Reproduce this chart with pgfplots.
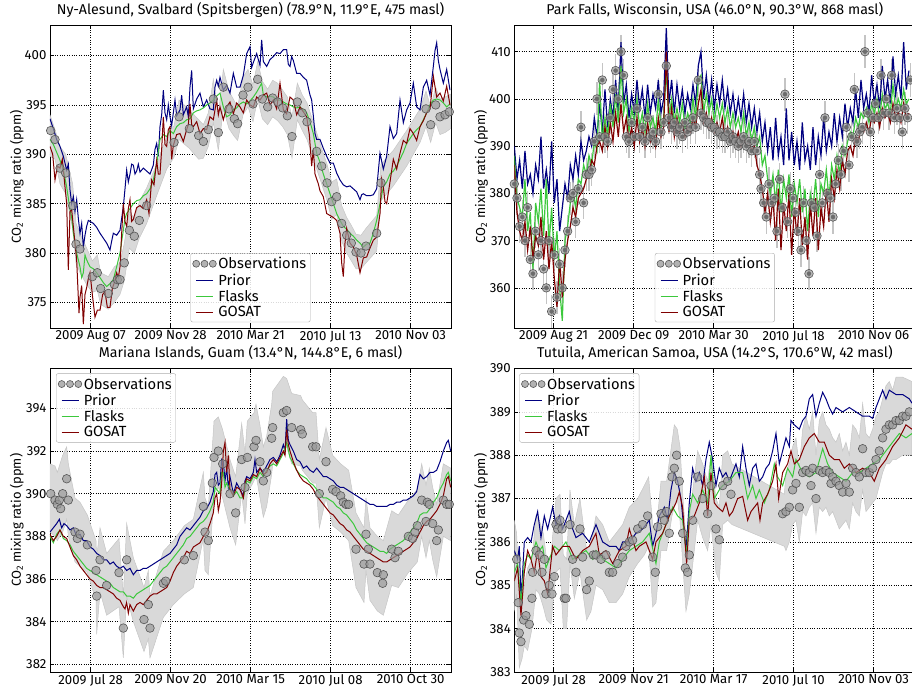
\documentclass[border=0pt]{standalone}
\usepackage{fontspec}
\setmainfont{Fira Sans}
\usepackage{pgfplots}
\usepackage{pgfplotstable}
\pgfplotsset{compat=1.18}
\definecolor{prior}{HTML}{000080}
\definecolor{flask}{HTML}{3CC83C}
\definecolor{gosat}{HTML}{800000}
\definecolor{bandc}{HTML}{D9D9D9}
\definecolor{bandedge}{HTML}{C6C6C6}
\definecolor{obsfill}{HTML}{9A9A9A}
\definecolor{obsedge}{HTML}{555555}
\definecolor{errc}{HTML}{C4C4C4}

% ---------------- Panel 1: Ny-Alesund ----------------
\pgfplotstableread{
x y
150 393.6
160 392.6
170 391.5
180 390.8
190 389.8
200 388.4
205 389.0
210 386.4
215 385.0
220 385.7
225 384.2
230 385.4
235 383.5
240 382.0
245 383.0
250 380.6
255 381.8
260 382.7
265 383.3
270 383.2
280 383.0
290 382.6
300 382.0
310 381.5
320 381.0
330 380.3
335 381.2
340 382.0
350 381.8
360 382.3
370 384.7
375 386.5
380 388.4
385 387.2
390 388.0
395 389.0
400 388.9
405 388.0
410 388.3
415 389.0
420 388.2
430 388.6
440 388.3
450 388.0
460 388.9
465 390.5
470 391.1
475 389.8
480 392.8
485 394.0
490 396.5
495 394.2
500 393.5
505 395.0
510 393.8
515 392.9
520 394.2
525 395.5
530 393.9
540 394.5
545 396.0
550 394.0
560 394.8
565 393.8
570 396.8
575 398.5
580 394.6
590 395.6
600 396.2
610 394.8
620 395.5
630 394.6
640 394.5
645 396.8
650 397.5
655 396.9
660 397.8
670 396.5
680 397.0
690 396.2
700 398.2
710 396.8
720 396.8
730 398.0
740 400.2
750 400.9
755 398.8
760 399.3
770 400.2
780 399.0
785 401.6
790 399.4
800 398.9
810 399.6
820 399.9
830 400.3
840 400.2
850 400.6
860 400.6
865 399.1
870 398.9
875 399.9
880 399.5
890 398.2
900 398.2
910 397.8
920 397.5
930 396.0
935 395.5
940 393.9
945 392.1
950 391.5
960 391.5
970 390.6
980 389.8
990 389.1
1000 389.1
1010 388.1
1020 387.4
1030 386.9
1040 386.7
1050 386.8
1060 386.5
1070 386.2
1080 385.4
1085 385.9
1090 386.0
1100 385.8
1110 385.8
1120 385.9
1130 386.5
1140 390.1
1150 388.5
1160 389.8
1170 392.8
1180 391.6
1190 392.1
1200 395.5
1210 393.2
1220 394.5
1230 395.2
1240 397.2
1250 394.8
1260 394.5
1270 396.8
1280 397.5
1290 396.0
1300 398.9
1305 400.5
1310 401.3
1315 399.5
1320 398.6
1330 397.2
1340 398.6
1350 396.5
}\pAprior

\pgfplotstableread{
x y
150 391.5
160 391.0
170 390.2
180 389.4
190 388.4
200 386.7
210 384.4
215 383.6
220 382.0
225 381.0
230 380.0
235 379.3
240 378.6
245 377.5
250 378.0
255 379.8
260 379.3
270 378.6
280 378.4
290 378.0
300 377.5
310 377.0
320 376.6
330 376.9
340 377.3
350 378.6
360 380.0
370 382.3
375 383.5
380 384.0
390 384.5
400 385.0
410 385.3
420 385.4
430 385.8
440 386.0
450 386.5
460 387.4
470 389.0
480 391.5
490 392.0
500 391.8
510 392.4
520 392.1
530 392.8
540 393.1
550 393.2
560 393.5
570 393.6
580 394.2
590 394.4
600 394.5
610 394.7
620 395.0
630 395.2
640 395.5
650 395.9
660 396.2
670 394.8
680 393.8
690 394.0
700 394.5
710 394.7
720 395.1
730 395.3
740 395.1
750 395.4
760 395.8
770 396.3
785 397.2
790 396.0
800 395.8
810 395.9
820 395.8
830 395.5
840 395.5
850 395.3
860 395.1
870 395.0
880 394.8
890 394.7
900 394.8
910 394.5
920 394.2
930 393.3
940 392.1
950 390.1
960 389.2
970 388.0
980 387.0
990 386.0
1000 385.0
1010 384.0
1020 383.3
1030 382.7
1040 382.4
1050 382.0
1060 381.7
1070 381.3
1080 381.0
1090 380.6
1100 380.9
1110 381.0
1120 382.0
1130 383.3
1140 385.0
1150 386.7
1160 387.2
1170 388.0
1180 388.3
1190 388.8
1200 389.5
1210 390.2
1220 391.1
1230 391.6
1240 392.1
1250 392.5
1260 392.8
1270 393.5
1280 394.2
1290 395.0
1300 395.5
1310 395.6
1320 395.5
1330 395.2
1340 394.8
1350 395.1
}\pAflask

\pgfplotstableread{
x y
150 390.8
158 390.0
165 387.4
172 388.8
180 388.6
187 389.5
195 386.7
200 385.0
205 378.3
210 384.2
215 384.4
222 382.0
230 379.3
237 373.9
240 375.5
245 376.7
250 372.8
255 375.8
260 376.5
265 377.4
270 378.0
278 375.5
285 373.5
292 374.2
300 374.2
308 375.8
315 376.1
322 374.5
330 374.5
337 376.4
343 377.0
350 378.0
355 377.5
360 378.6
365 382.0
370 385.0
375 383.2
380 382.7
385 384.5
390 385.4
395 383.2
400 383.4
410 384.6
420 384.8
430 384.5
440 385.4
447 384.0
455 387.4
462 386.9
470 389.4
475 388.0
480 388.0
485 390.5
490 393.8
495 391.0
500 390.8
505 392.5
510 392.8
515 389.5
520 390.9
530 392.0
540 392.1
550 391.3
560 392.5
565 393.0
570 395.1
575 393.0
580 392.8
590 393.3
600 392.1
610 392.6
620 392.5
630 393.8
640 393.5
650 395.5
655 394.0
660 394.8
670 393.5
680 394.8
690 395.3
700 394.1
710 395.2
720 394.8
730 394.2
740 395.5
750 395.0
760 394.8
770 395.8
780 395.5
790 396.0
800 396.2
810 395.0
820 395.5
830 394.6
840 397.2
850 394.5
860 394.1
870 395.8
880 395.5
890 394.0
900 394.8
910 394.3
920 393.8
928 392.0
935 388.8
940 390.5
945 388.0
955 387.0
960 386.3
970 385.7
980 384.0
990 383.8
1000 383.6
1010 383.3
1020 382.0
1025 379.0
1030 377.6
1035 381.0
1040 382.5
1050 381.0
1060 380.6
1070 379.8
1080 378.0
1090 379.5
1100 379.6
1110 380.5
1120 381.3
1130 381.6
1140 384.0
1145 387.5
1150 386.7
1155 385.2
1160 385.0
1170 387.2
1180 389.5
1190 388.5
1200 390.1
1210 391.4
1220 391.1
1230 392.6
1240 392.1
1250 391.4
1260 392.8
1270 393.4
1280 394.2
1290 394.6
1300 397.9
1310 395.8
1320 396.2
1330 395.4
1340 396.9
1350 395.0
}\pAgosat

\pgfplotstableread{
x y
152 392.4
165 391.5
180 388.6
197 388.1
218 384.8
228 380.9
240 380.4
277 377.6
292 378.0
302 376.4
325 375.9
343 376.8
352 377.3
360 377.3
373 379.0
388 382.3
403 381.7
418 383.3
440 384.8
522 391.2
537 393.8
568 392.6
596 391.9
610 391.3
625 392.5
640 395.6
655 392.2
670 396.8
687 394.6
703 393.6
713 393.1
729 396.0
744 396.8
759 395.1
773 397.6
787 395.6
803 394.8
818 395.7
833 395.3
848 394.7
862 393.9
876 391.8
892 395.3
907 394.2
921 393.3
950 390.3
965 388.8
981 387.1
995 385.2
1010 385.7
1025 383.0
1040 381.8
1054 381.0
1068 380.1
1083 380.0
1098 380.7
1130 382.0
1143 387.1
1278 394.6
1292 393.0
1307 395.0
1320 393.8
1335 394.0
1348 394.3
}\pAobs

% band outline: upper edge left to right, then lower edge right to left
\pgfplotstableread{
x y
150 394.0
165 392.5
180 390.8
197 390.0
218 387.0
228 383.0
240 382.0
260 380.5
277 379.2
292 379.8
302 378.0
325 377.6
343 378.6
360 379.0
373 381.0
388 384.2
403 383.5
418 385.2
440 386.6
470 389.0
500 391.8
522 392.9
537 395.5
568 394.5
596 393.5
610 393.0
625 394.2
640 397.6
655 394.0
670 398.6
687 396.4
703 395.4
713 394.8
729 397.8
744 398.6
759 397.0
773 399.4
787 397.4
803 396.6
818 397.5
833 397.2
848 396.5
862 395.8
876 393.8
892 397.2
907 396.0
921 395.2
950 392.2
965 390.6
981 389.0
995 387.2
1010 387.5
1025 384.8
1040 383.6
1054 382.8
1068 381.9
1083 381.8
1098 382.5
1130 383.8
1143 389.0
1180 390.4
1220 392.4
1260 394.6
1278 396.4
1292 394.8
1307 396.8
1320 395.6
1335 395.8
1352 396.1
1352 392.6
1335 392.2
1320 392.0
1307 393.2
1292 391.2
1278 392.8
1260 391.2
1220 388.8
1180 386.8
1143 385.3
1130 380.2
1098 379.0
1083 378.4
1068 378.4
1054 379.2
1040 380.0
1025 381.2
1010 383.9
995 383.4
981 385.3
965 387.0
950 388.5
921 391.5
907 392.4
892 393.5
876 389.6
862 392.0
848 392.8
833 393.4
818 393.8
803 393.0
787 393.6
773 395.6
759 393.3
744 394.8
729 394.0
713 391.4
703 391.8
687 392.6
670 394.6
655 390.4
640 393.2
625 390.8
610 389.6
596 389.5
568 390.6
537 391.5
522 389.7
500 388.5
470 385.8
440 383.0
418 381.5
403 380.0
388 380.5
373 377.2
360 375.8
343 375.0
325 374.3
302 374.8
292 376.2
277 376.0
260 376.8
240 378.0
228 379.0
218 382.5
197 386.0
180 387.0
165 389.5
150 389.8
}\pAband

% ---------------- Panel 2: Park Falls ----------------
\pgfplotstableread{
x prior flask gosat
175 390 388 386
183 383 379 376
191 387 377 372
199 381 375 370
207 389 383 374
215 382 372 368
223 384 376 373
231 380 364 366
239 386 378 371
247 383 374 369
255 392 381 375
263 381 371 366
271 385 383 372
279 380 369 364
287 391 377 370
295 378 366 362
303 383 372 356
311 372 360 366
319 377 353 358
327 382 370 366
335 379 373 370
343 386 378 373
351 383 380 377
359 388 377 375
367 384 383 379
375 391 382 380
383 387 386 381
391 389 384 383
399 392 388 384
407 390 386 387
415 396 391 386
423 392 389 390
431 399 404 391
439 393 391 389
447 402 396 394
455 394 392 390
463 400 399 395
471 396 394 391
479 404 401 397
487 397 395 392
495 412 407 399
503 399 397 393
511 403 400 396
519 396 393 391
527 401 398 394
535 397 395 390
543 404 400 396
551 398 394 391
559 402 397 394
567 396 393 390
575 403 399 395
583 397 394 391
591 401 396 393
599 398 393 390
607 404 400 396
615 397 394 392
623 400 396 394
631 415 406 410
639 399 396 393
647 404 400 398
655 397 395 392
663 403 398 396
671 398 395 393
679 402 399 395
687 397 394 392
695 401 397 394
703 398 395 393
711 403 400 396
719 399 396 394
727 407 404 399
735 410 405 402
743 400 397 395
751 405 401 397
759 399 397 394
767 404 400 396
775 398 395 393
783 403 399 395
791 399 396 393
799 404 399 396
807 398 395 392
815 402 398 394
823 397 394 391
831 401 397 393
839 396 394 391
847 400 396 393
855 396 393 390
863 401 397 392
871 395 392 390
879 399 395 391
887 394 391 389
895 398 394 390
903 393 390 386
911 397 392 384
919 391 386 381
927 395 388 376
935 389 383 380
943 394 380 374
951 387 384 379
959 396 378 370
967 388 385 381
975 392 376 368
983 386 383 378
991 398 379 372
999 387 384 380
1007 393 375 367
1015 386 382 377
1023 391 378 371
1031 385 383 379
1039 395 376 369
1047 387 381 375
1055 390 372 366
1063 385 380 378
1071 394 377 371
1079 386 383 379
1087 392 375 368
1095 388 382 377
1103 396 380 373
1111 389 385 381
1119 393 379 374
1127 390 386 383
1135 397 383 379
1143 391 388 385
1151 396 384 381
1159 392 390 387
1167 399 388 384
1175 394 391 389
1183 398 393 390
1191 395 392 388
1199 402 396 392
1207 396 394 391
1215 404 397 394
1223 398 396 393
1231 401 398 395
1239 397 395 393
1247 405 399 396
1255 399 397 395
1263 403 400 397
1271 398 396 394
1279 407 401 398
1287 400 398 396
1295 404 399 397
1303 399 397 395
1311 409 403 399
1319 401 398 396
1327 405 400 397
1335 400 398 395
1343 412 402 399
1351 402 399 396
1359 406 400 397
}\pBlines

\pgfplotstableread{
x y
175 382
183 379
191 373
199 375
207 370
215 377
223 366
231 363
239 372
247 367
255 370
263 364
271 360
279 370
287 355
295 367
303 358
311 365
319 360
327 368
335 372
343 379
351 380
359 374
367 381
375 394
383 378
391 384
399 384
407 385
415 391
423 400
431 392
439 404
447 392
455 391
463 396
471 402
479 406
487 400
495 410
503 405
511 392
519 391
527 395
535 392
543 398
551 392
559 394
567 391
575 396
583 392
591 393
599 391
607 401
615 393
623 395
631 407
639 396
647 394
655 395
663 393
671 394
679 392
687 395
695 393
703 394
711 396
719 394
727 404
735 397
743 396
751 395
759 395
767 394
775 394
783 393
791 393
799 392
807 392
815 393
823 391
831 392
839 391
847 390
855 391
863 392
871 390
879 391
887 389
895 391
903 389
911 384
915 381
923 378
931 375
939 382
947 378
955 379
963 372
971 383
979 377
987 401
995 374
1003 381
1011 379
1019 376
1027 372
1035 368
1043 378
1051 370
1059 363
1067 378
1075 377
1083 371
1091 384
1099 378
1107 396
1115 380
1123 379
1131 375
1139 382
1147 387
1155 384
1163 389
1171 394
1179 386
1187 392
1195 402
1203 391
1211 393
1219 394
1227 410
1235 397
1243 393
1251 396
1259 399
1267 396
1275 405
1283 397
1291 400
1299 397
1307 405
1315 396
1323 398
1331 396
1339 393
1347 398
1355 396
1363 404
}\pBobs

% ---------------- Panel 3: Guam ----------------
\pgfplotstableread{
x y
150 388.2
160 388.4
170 388.6
178 388.8
185 388.4
192 388.6
200 388.5
210 388.3
220 388.4
230 388.0
240 388.1
250 387.8
260 387.8
270 387.5
280 387.4
290 387.2
300 387.1
310 386.9
320 386.9
330 386.7
340 386.8
350 386.6
360 386.5
370 386.6
380 386.4
390 386.5
400 386.2
410 386.4
420 386.4
430 386.5
440 386.5
450 386.6
460 386.7
470 386.8
480 386.9
490 387.0
500 387.1
510 387.2
520 387.4
530 387.6
540 388.0
550 388.2
560 388.4
570 388.3
580 388.5
590 388.7
600 388.9
610 389.2
620 389.3
630 389.6
640 390.1
645 390.9
650 391.0
655 390.4
660 390.5
665 391.6
670 391.5
675 390.6
680 391.2
685 390.3
690 390.8
700 390.0
710 390.5
720 390.2
730 389.9
735 390.6
740 390.8
750 390.7
760 391.0
765 391.6
770 391.0
780 391.2
790 391.0
800 391.3
810 391.6
820 391.7
830 391.5
840 391.8
850 392.3
855 392.0
860 393.5
865 392.5
870 392.3
880 392.0
890 391.6
900 391.5
910 391.2
920 391.3
930 391.1
940 391.0
950 391.2
960 391.0
970 390.8
980 390.8
990 390.7
1000 390.6
1010 390.4
1020 390.3
1030 390.3
1040 390.2
1050 390.1
1060 390.0
1070 389.9
1080 389.8
1090 389.7
1100 389.6
1110 389.5
1120 389.5
1130 389.4
1140 389.4
1150 389.4
1160 389.4
1170 389.5
1180 389.5
1190 389.6
1200 389.6
1210 389.7
1220 389.7
1230 389.8
1240 389.9
1250 390.1
1260 390.9
1270 390.7
1280 390.8
1290 391.0
1300 391.0
1310 391.1
1320 391.5
1330 392.0
1340 392.4
1345 392.5
1352 392.0
}\pCprior

\pgfplotstableread{
x y
150 388.0
160 387.7
170 388.1
180 388.3
190 387.9
200 387.8
210 387.6
220 387.3
230 387.1
240 386.9
250 386.7
260 386.5
270 386.4
280 386.3
290 386.2
300 386.1
310 386.0
320 385.9
330 385.8
340 385.6
350 385.5
360 385.4
370 385.4
380 385.2
390 385.2
400 385.1
410 385.3
420 385.4
430 385.5
440 385.6
450 385.7
460 385.9
470 386.1
480 386.3
490 386.5
500 386.6
510 386.8
520 387.0
530 387.2
540 387.4
550 387.6
560 387.9
570 388.0
580 388.2
590 388.4
600 388.6
610 388.7
620 388.9
630 389.2
640 389.6
645 390.3
650 390.2
660 390.0
665 391.0
670 391.0
675 390.3
680 390.5
690 390.2
700 389.9
710 390.1
720 389.8
730 389.8
740 390.6
750 390.5
760 390.8
770 390.7
780 391.0
790 390.8
800 391.1
810 391.3
820 391.4
830 391.3
840 391.6
850 391.9
860 392.4
870 391.7
880 391.4
890 391.1
900 390.9
910 390.8
920 390.7
930 390.5
940 390.4
950 390.2
960 390.0
970 389.8
980 389.8
990 389.7
1000 389.6
1010 389.4
1020 389.3
1030 389.1
1040 389.0
1050 388.8
1060 388.6
1070 388.3
1080 388.1
1090 387.9
1100 387.7
1110 387.6
1120 387.5
1130 387.4
1140 387.3
1150 387.3
1160 387.2
1170 387.4
1180 387.5
1190 387.6
1200 387.7
1210 387.8
1220 388.0
1230 388.2
1240 388.4
1250 388.6
1260 389.0
1270 389.1
1280 389.1
1290 389.3
1300 389.6
1310 389.8
1320 390.2
1330 390.5
1340 390.9
1345 391.0
1352 390.6
}\pCflask

\pgfplotstableread{
x y
150 388.1
160 387.8
170 388.0
180 388.3
190 388.0
200 387.9
210 387.5
220 387.1
230 386.9
240 386.6
250 386.4
260 386.2
270 386.0
280 385.9
290 385.7
300 385.6
310 385.6
320 385.5
330 385.4
340 385.3
350 385.1
360 385.0
370 384.7
375 384.6
380 384.9
385 384.4
390 384.8
400 384.5
410 384.8
420 384.9
430 384.8
440 385.0
450 385.2
460 385.3
470 385.3
480 385.4
490 385.5
500 385.6
510 385.9
520 386.3
530 386.6
540 386.8
550 387.0
560 387.3
570 387.2
580 387.5
590 387.6
600 387.7
610 388.0
620 388.2
630 388.6
640 389.1
645 389.8
650 390.0
655 389.2
660 389.6
665 390.5
670 392.0
675 392.4
680 391.0
685 391.8
690 390.2
700 389.9
710 390.3
720 390.2
730 389.8
735 390.5
740 390.7
750 390.6
760 390.9
770 390.8
780 391.2
790 390.9
800 391.0
810 391.4
820 391.6
830 391.4
840 391.7
850 392.0
855 391.8
860 393.0
865 392.3
870 392.0
880 391.5
890 391.1
900 390.8
910 390.6
920 390.5
930 390.4
940 390.2
950 389.9
960 389.7
970 389.5
980 389.3
990 389.1
1000 389.0
1010 388.8
1020 388.6
1030 388.5
1040 388.3
1050 388.2
1060 388.0
1070 387.8
1080 387.6
1090 387.4
1100 387.3
1110 387.2
1120 387.1
1130 387.0
1140 386.9
1150 386.8
1160 386.8
1170 386.9
1180 387.0
1190 387.1
1200 387.2
1210 387.3
1220 387.4
1230 387.5
1240 387.7
1250 387.9
1260 388.2
1270 388.5
1280 388.7
1290 388.8
1300 389.0
1310 389.2
1320 389.5
1330 389.9
1340 390.7
1345 390.8
1352 390.3
}\pCgosat

\pgfplotstableread{
x y
152 390.0
165 389.7
172 389.5
178 389.7
182 389.3
188 390.0
200 390.7
205 389.7
225 388.2
232 387.9
240 388.1
262 387.6
288 386.4
290 385.2
300 386.9
320 385.7
357 386.3
370 383.7
380 386.9
432 384.1
445 384.8
450 383.7
490 385.8
497 385.9
553 386.9
580 387.1
610 389.4
615 388.2
625 387.8
637 390.5
642 391.7
655 392.0
668 391.4
690 390.0
707 389.1
725 391.6
735 390.3
742 391.7
762 392.2
768 392.5
780 391.5
790 390.6
800 391.0
815 392.6
818 393.1
850 393.8
860 393.9
875 393.1
902 393.0
907 392.8
938 392.2
948 392.2
958 390.0
978 391.5
998 390.2
1008 390.1
1022 389.9
1030 389.6
1038 389.5
1046 389.5
1068 387.4
1092 386.7
1098 388.1
1105 387.4
1110 386.7
1132 386.3
1148 385.8
1150 386.2
1175 387.4
1185 387.0
1195 387.3
1225 388.0
1238 387.9
1245 388.2
1252 388.5
1265 389.7
1278 388.7
1282 389.6
1288 389.5
1298 388.6
1310 387.8
1315 388.3
1330 389.7
1340 389.5
1348 389.5
}\pCobs

\pgfplotstableread{
x y
150 391.4
165 391.3
172 391.0
188 391.8
200 392.2
205 391.4
225 389.8
240 389.6
262 389.0
288 387.8
290 387.0
300 388.4
320 387.2
357 387.9
370 385.2
380 388.6
400 387.0
432 385.6
445 386.4
450 385.2
490 387.3
520 387.8
553 388.5
580 388.8
610 391.0
615 389.8
625 389.4
637 392.2
642 393.4
655 393.6
668 393.0
690 391.6
707 390.8
725 393.3
735 391.9
742 393.4
762 393.8
768 394.2
780 393.2
790 392.2
800 392.7
815 394.2
818 394.8
850 395.5
860 395.4
875 394.7
902 394.6
907 394.4
938 393.8
948 393.8
958 391.6
978 393.1
998 391.8
1022 391.4
1046 391.1
1068 389.1
1092 388.4
1098 389.8
1110 388.4
1132 388.0
1150 387.8
1175 389.2
1195 389.0
1225 389.7
1252 390.2
1265 391.4
1278 390.4
1288 391.2
1298 390.3
1310 389.5
1330 391.4
1352 391.2
1352 387.8
1330 388.0
1310 386.1
1298 386.9
1288 387.8
1278 387.0
1265 388.0
1252 386.8
1225 386.3
1195 385.6
1175 385.7
1150 384.3
1132 384.5
1110 385.0
1098 386.4
1092 384.9
1068 385.6
1046 387.8
1022 388.2
998 388.5
978 389.8
958 388.4
948 390.5
938 390.5
907 391.1
902 391.3
875 391.4
860 392.2
850 392.1
818 391.4
815 390.9
800 389.4
790 388.9
780 389.8
768 390.9
762 390.6
742 390.0
735 388.6
725 390.0
707 387.6
690 388.4
668 389.8
655 390.3
642 390.0
637 388.8
625 386.2
615 386.4
610 387.9
580 385.6
553 385.3
520 384.8
490 384.2
450 382.3
445 383.2
432 382.6
400 384.0
380 385.2
370 382.3
357 384.7
320 384.3
300 385.4
290 383.4
288 385.0
262 386.3
240 386.6
225 386.8
205 388.0
200 388.8
188 388.2
172 387.8
165 388.0
150 388.2
}\pCband

% ---------------- Panel 4: Tutuila ----------------
\pgfplotstableread{
x y
175 385.8
185 385.6
190 385.9
195 384.7
200 385.3
205 386.0
215 386.1
225 386.0
235 386.4
245 386.7
255 386.1
265 386.6
275 386.3
290 386.8
300 386.4
310 386.6
320 386.3
340 386.7
350 386.3
360 386.1
380 386.2
400 386.0
420 386.4
430 386.2
440 386.0
460 385.9
480 385.9
490 385.8
500 386.0
520 386.0
540 386.2
560 386.3
580 386.5
590 385.9
600 386.2
610 386.6
625 386.8
635 386.5
645 387.2
655 387.6
665 387.4
675 387.0
685 386.2
690 385.8
700 386.9
710 387.7
720 387.4
730 387.6
740 387.3
750 387.9
760 388.3
770 387.9
780 387.3
790 387.7
800 387.5
810 387.6
820 387.4
830 387.6
840 387.8
850 387.5
860 388.2
870 387.7
880 387.3
890 387.7
900 387.8
910 387.4
920 387.5
930 387.7
940 387.8
950 388.1
960 388.5
970 387.8
980 388.1
990 388.4
1000 388.2
1005 388.8
1015 388.7
1030 388.6
1040 388.8
1050 388.9
1060 389.3
1070 389.4
1080 388.9
1090 389.2
1100 389.45
1110 389.3
1120 389.1
1130 388.95
1140 389.1
1160 389.0
1180 389.1
1200 389.0
1220 388.9
1240 388.9
1250 388.85
1260 389.1
1270 389.3
1280 389.5
1290 389.3
1300 389.5
1320 389.4
1340 389.4
1360 389.3
1368 389.2
}\pDprior

\pgfplotstableread{
x y
175 385.3
185 385.5
195 384.6
205 385.5
215 385.7
225 385.6
240 386.0
250 385.8
260 385.9
270 385.4
280 385.6
295 385.9
310 385.8
330 386.0
350 385.6
370 385.7
390 385.8
410 385.6
420 385.8
440 385.6
460 385.5
480 385.4
500 385.6
520 385.8
540 385.9
560 386.0
580 386.2
600 385.5
610 386.0
630 386.4
650 386.8
665 386.6
680 386.5
692 385.7
700 386.7
710 387.1
725 386.9
740 387.2
755 386.9
765 388.0
775 387.0
790 387.2
800 387.3
820 387.4
840 387.6
860 387.6
875 387.0
890 387.3
900 387.0
910 387.2
925 386.9
940 387.2
955 387.8
965 387.5
980 387.3
995 387.7
1010 387.5
1020 387.9
1040 387.6
1060 387.5
1080 387.6
1100 388.15
1115 387.8
1130 387.6
1150 387.5
1170 387.4
1190 387.6
1210 387.6
1230 387.7
1250 387.8
1270 387.9
1290 388.1
1310 388.3
1330 388.5
1350 388.4
1368 388.5
}\pDflask

\pgfplotstableread{
x y
175 385.1
185 385.4
195 384.3
205 385.3
215 385.8
225 385.6
235 385.3
245 385.8
255 385.2
265 385.1
275 384.8
290 385.9
300 385.7
320 385.9
340 385.9
360 385.6
380 385.8
400 385.9
420 386.2
430 385.7
450 385.8
470 385.5
490 385.8
510 385.9
520 386.3
540 385.8
550 385.9
570 386.0
590 385.6
600 386.0
620 386.2
640 386.6
660 386.9
670 387.15
680 386.8
692 385.5
700 386.5
715 386.6
730 386.9
745 387.5
755 386.6
765 387.6
775 386.9
785 386.8
800 386.7
810 386.9
820 386.6
830 386.7
845 387.0
860 387.05
875 386.5
885 386.7
895 386.8
905 386.9
912 386.5
920 386.9
935 387.1
950 387.4
960 387.8
968 387.0
980 387.6
995 387.8
1005 388.1
1015 387.8
1030 387.9
1045 388.2
1060 388.4
1075 388.5
1090 388.3
1105 388.3
1120 388.0
1135 387.9
1150 387.9
1165 387.7
1180 387.8
1200 387.6
1220 387.7
1240 387.6
1255 387.4
1270 387.7
1290 387.9
1310 388.2
1330 388.4
1350 388.7
1368 388.6
}\pDgosat

\pgfplotstableread{
x y
182 385.6
187 384.6
190 383.9
195 383.7
203 384.2
210 384.3
220 384.1
228 384.7
230 385.3
240 385.8
250 385.7
258 385.3
265 385.6
270 384.8
280 385.0
288 384.8
295 385.2
300 386.4
305 386.3
312 386.5
318 386.3
325 384.7
330 384.7
342 386.4
350 385.6
360 385.3
372 386.3
380 385.65
392 384.9
400 385.1
412 385.7
420 385.7
435 385.6
450 385.7
460 385.3
470 385.3
485 385.5
500 385.65
510 385.9
520 386.0
530 386.04
545 386.3
560 386.4
575 386.6
590 385.65
598 385.3
605 386.35
615 386.65
625 386.5
632 386.7
640 386.2
648 387.5
655 387.7
662 388.0
670 387.4
680 386.2
688 385.4
695 385.3
700 385.7
710 386.5
725 387.5
740 387.0
755 386.65
765 387.3
780 386.3
790 386.05
800 387.3
815 387.4
825 387.1
980 386.65
990 386.7
1000 386.8
1010 387.2
1020 387.35
1030 386.8
1040 387.6
1050 387.65
1060 387.6
1065 387.3
1070 387.7
1080 387.0
1090 387.65
1100 387.6
1110 387.65
1120 387.6
1125 387.35
1130 387.5
1140 387.4
1150 387.3
1160 387.15
1170 387.35
1180 387.15
1190 387.7
1200 387.6
1210 387.5
1220 388.15
1230 387.6
1240 387.6
1250 387.7
1260 387.9
1270 388.1
1280 388.4
1290 388.6
1300 388.7
1310 388.7
1320 388.8
1330 388.8
1340 388.9
1350 388.9
1360 389.0
}\pDobs

\pgfplotstableread{
x y
175 386.5
182 386.2
190 384.8
198 384.6
205 385.0
215 385.4
228 385.6
240 386.6
250 386.5
262 386.2
272 385.6
285 385.7
300 387.0
312 387.1
322 385.7
332 385.6
342 387.2
355 386.4
372 387.0
392 385.8
405 386.0
420 386.6
440 386.4
460 386.0
480 386.2
500 386.4
520 386.8
545 387.0
565 387.3
578 387.5
590 386.4
600 386.2
615 387.4
632 387.4
648 388.3
655 388.7
664 388.6
672 388.2
682 386.9
690 386.1
700 386.5
712 387.3
725 388.1
740 387.8
755 387.4
765 388.0
780 387.0
790 386.8
800 388.0
815 388.1
828 387.8
985 387.1
990 387.6
1000 387.8
1010 388.2
1020 388.4
1030 387.7
1040 388.6
1050 388.9
1060 388.6
1070 389.0
1080 388.0
1090 388.8
1100 389.0
1110 388.7
1120 388.6
1130 388.4
1140 388.3
1150 388.5
1160 388.1
1170 388.3
1180 388.0
1190 388.7
1200 388.6
1210 388.4
1220 389.2
1230 388.5
1240 388.4
1250 388.6
1260 388.9
1270 389.0
1280 389.3
1290 389.6
1300 389.7
1310 389.5
1320 389.8
1340 389.8
1368 389.7
1368 388.0
1340 388.0
1320 387.9
1310 387.9
1300 387.8
1290 387.8
1280 387.6
1270 387.3
1260 387.0
1250 386.9
1240 386.8
1230 386.7
1220 387.2
1210 386.6
1200 386.7
1190 386.9
1180 386.3
1170 386.5
1160 386.4
1150 386.3
1140 386.5
1130 386.7
1120 386.6
1110 386.8
1100 386.7
1090 386.8
1080 386.2
1070 386.9
1060 386.8
1050 386.6
1040 386.7
1030 386.0
1020 386.5
1010 386.4
1000 386.0
990 385.8
985 385.9
828 386.4
815 386.5
800 386.4
790 385.1
780 385.3
765 386.4
755 385.8
740 386.1
725 386.5
712 385.6
700 384.8
690 384.4
682 385.3
672 386.5
664 387.0
655 386.8
648 386.6
632 385.8
615 385.8
600 384.6
590 384.5
578 385.9
565 385.7
545 385.5
520 385.2
500 384.8
480 384.6
460 384.6
440 384.9
420 385.0
405 384.4
392 384.2
372 385.3
355 384.7
342 385.5
332 384.0
322 384.0
312 385.4
300 385.3
285 384.1
272 384.2
262 384.5
250 384.8
240 384.9
228 384.0
215 383.5
205 383.6
198 383.3
190 383.1
182 384.8
175 384.4
}\pDband

\pgfplotsset{
  panel/.style={
    scale only axis, width=401pt, anchor=south west,
    grid=major,
    grid style={black, dotted, line width=0.6pt},
    tick align=inside, major tick length=4pt,
    tick style={black, line width=0.6pt},
    axis line style={black, line width=0.8pt},
    ticklabel style={font=\fontsize{13.2}{15}\selectfont},
    xticklabel style={inner sep=2pt},
    /pgf/number format/assume math mode=true,
    yticklabel style={/pgf/number format/fixed, /pgf/number format/1000 sep={}},
    ylabel={CO\textsubscript{2} mixing ratio (ppm)},
    ylabel style={font=\fontsize{13}{15}\selectfont, at={(axis description cs:-0.083,0.5)}, anchor=center},
    title style={font=\fontsize{14.2}{16}\selectfont, inner sep=0pt, anchor=base, at={(0.5,1)}, yshift=4.6pt},
    legend style={font=\fontsize{14.7}{16}\selectfont, draw=gray!65, rounded corners=2pt,
      fill=white, fill opacity=0.85, text opacity=1, draw opacity=1,
      inner sep=2pt, row sep=-0.5pt, cells={anchor=west}},
    legend cell align=left,
  },
  obsstyle/.style={only marks, mark=*, mark size=4.3pt,
    mark options={fill=obsfill, draw=obsedge, fill opacity=0.7, line width=0.6pt}},
  priorl/.style={color=prior, line width=1pt, mark=none},
  flaskl/.style={color=flask, line width=1pt, mark=none},
  gosatl/.style={color=gosat, line width=1pt, mark=none},
  bandl/.style={fill=bandc, draw=bandedge, line width=0.5pt, mark=none},
  obslegend/.style={legend image code/.code={
    \draw[only marks, mark=*, mark size=3.5pt, mark options={fill=obsfill, draw=obsedge, fill opacity=0.75, line width=0.6pt}]
      plot coordinates {(0pt,0pt) (8.3pt,0pt) (16.6pt,0pt)};}},
}
\newcommand\mylegend{%
  \addlegendimage{obslegend}\addlegendentry{Observations}
  \addlegendimage{priorl}\addlegendentry{Prior}
  \addlegendimage{flaskl}\addlegendentry{Flasks}
  \addlegendimage{gosatl}\addlegendentry{GOSAT}
}

\begin{document}
\begin{tikzpicture}
\begin{scope}
\clip (0pt,0pt) rectangle (912pt,686pt);

% Panel 1
\begin{axis}[panel, at={(50pt,358pt)}, height=303pt,
  xmin=150, xmax=1353, ymin=372.4, ymax=403.1,
  xtick={272,512,752,992,1232},
  xticklabels={2009 Aug 07, 2009 Nov 28, 2010 Mar 21, 2010 Jul 13, 2010 Nov 03},
  ytick={375,380,385,390,395,400},
  title={Ny-Alesund, Svalbard (Spitsbergen) (78.9°N, 11.9°E, 475 masl)},
  legend style={at={(0.5,0.019)}, anchor=south}]
\addplot[bandl, forget plot] table {\pAband};
\addplot[priorl, forget plot] table {\pAprior};
\addplot[flaskl, forget plot] table {\pAflask};
\addplot[gosatl, forget plot] table {\pAgosat};
\addplot[obsstyle, forget plot] table {\pAobs};
\mylegend
\end{axis}

% Panel 2
\begin{axis}[panel, at={(514.3pt,358pt)}, height=303pt,
  xmin=175, xmax=1378, ymin=351.5, ymax=415.65,
  xtick={293,533,773,1013,1253},
  xticklabels={2009 Aug 21, 2009 Dec 09, 2010 Mar 30, 2010 Jul 18, 2010 Nov 06},
  ytick={360,370,380,390,400,410},
  title={Park Falls, Wisconsin, USA (46.0°N, 90.3°W, 868 masl)},
  legend style={at={(0.5,0.019)}, anchor=south}]
\addplot[only marks, mark=none, forget plot,
  error bars/.cd, y dir=both, y fixed=3.5, error mark=none,
  error bar style={color=errc, line width=1.3pt}] table {\pBobs};
\addplot[priorl, line width=1.2pt, forget plot] table[x=x,y=prior] {\pBlines};
\addplot[flaskl, line width=1.2pt, forget plot] table[x=x,y=flask] {\pBlines};
\addplot[gosatl, line width=1.2pt, forget plot] table[x=x,y=gosat] {\pBlines};
\addplot[obsstyle, forget plot] table {\pBobs};
\mylegend
\end{axis}

% Panel 3
\begin{axis}[panel, at={(50pt,14pt)}, height=303.5pt,
  xmin=150, xmax=1353, ymin=381.64, ymax=395.87,
  xtick={272,512,752,992,1232},
  xticklabels={2009 Jul 28, 2009 Nov 20, 2010 Mar 15, 2010 Jul 08, 2010 Oct 30},
  ytick={382,384,386,388,390,392,394},
  title={Mariana Islands, Guam (13.4°N, 144.8°E, 6 masl)},
  legend style={at={(0.015,0.984)}, anchor=north west}]
\addplot[bandl, forget plot] table {\pCband};
\addplot[priorl, forget plot] table {\pCprior};
\addplot[flaskl, forget plot] table {\pCflask};
\addplot[gosatl, forget plot] table {\pCgosat};
\addplot[obsstyle, forget plot] table {\pCobs};
\mylegend
\end{axis}

% Panel 4
\begin{axis}[panel, at={(514.3pt,14pt)}, height=303.5pt,
  xmin=175, xmax=1378, ymin=383, ymax=390,
  xtick={293,533,773,1013,1253},
  xticklabels={2009 Jul 28, 2009 Nov 21, 2010 Mar 17, 2010 Jul 10, 2010 Nov 03},
  ytick={383,384,385,386,387,388,389,390},
  title={Tutuila, American Samoa, USA (14.2°S, 170.6°W, 42 masl)},
  legend style={at={(0.0125,0.984)}, anchor=north west}]
\addplot[bandl, forget plot] table {\pDband};
\addplot[priorl, forget plot] table {\pDprior};
\addplot[flaskl, forget plot] table {\pDflask};
\addplot[gosatl, forget plot] table {\pDgosat};
\addplot[obsstyle, forget plot] table {\pDobs};
\mylegend
\end{axis}
\end{scope}
\pgfresetboundingbox
\path[use as bounding box] (0pt,0pt) rectangle (912pt,686pt);
\end{tikzpicture}
\end{document}
